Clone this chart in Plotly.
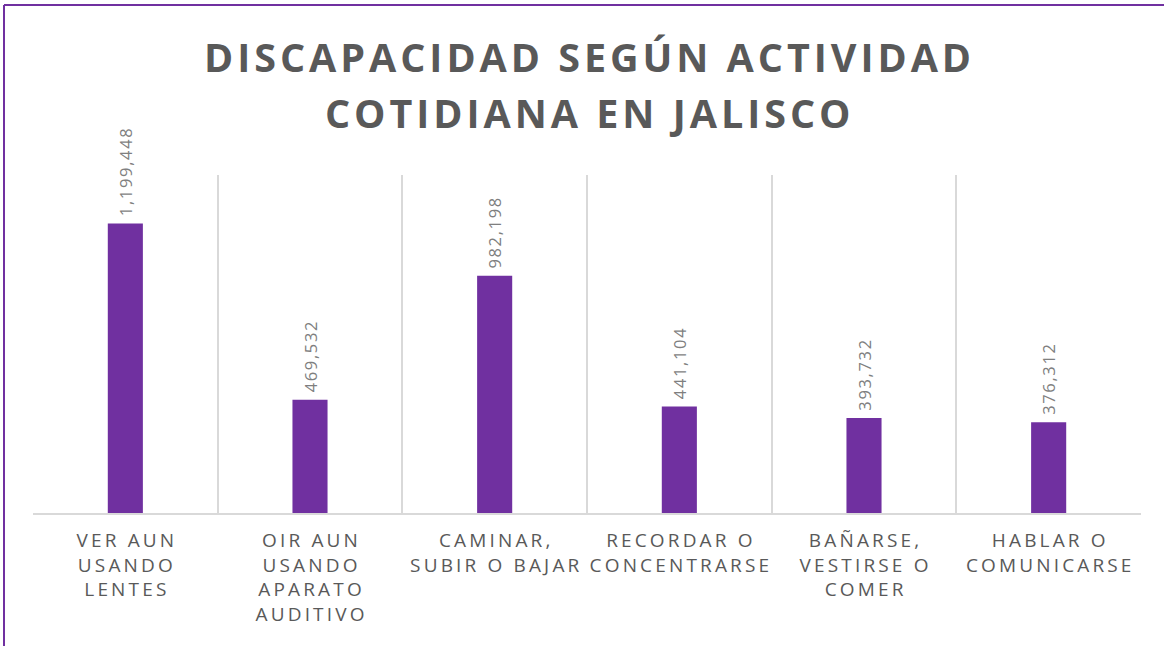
import plotly.graph_objects as go

categories = [
    "VER AUN USANDO LENTES",
    "OIR AUN USANDO APARATO AUDITIVO",
    "CAMINAR, SUBIR O BAJAR",
    "RECORDAR O CONCENTRARSE",
    "BAÑARSE, VESTIRSE O COMER",
    "HABLAR O COMUNICARSE",
]
label_lines = [
    ["VER AUN", "USANDO", "LENTES"],
    ["OIR AUN", "USANDO", "APARATO", "AUDITIVO"],
    ["CAMINAR,", "SUBIR O BAJAR"],
    ["RECORDAR O", "CONCENTRARSE"],
    ["BAÑARSE,", "VESTIRSE O", "COMER"],
    ["HABLAR O", "COMUNICARSE"],
]
values = [1199448, 469532, 982198, 441104, 393732, 376312]
title_lines = ["DISCAPACIDAD SEGÚN ACTIVIDAD", "COTIDIANA EN JALISCO"]

THIN = "\u2009"
HAIR = "\u200a"
NBSP = "\u00a0"

def spaced(s, sep=THIN):
    return sep.join(s)

tick_text = ["<br>".join(spaced(l) for l in lines) for lines in label_lines]
bar_text = [NBSP + spaced(f"{v:,}", HAIR) for v in values]

fig = go.Figure(
    go.Bar(
        x=categories,
        y=values,
        text=bar_text,
        textposition="outside",
        textangle=-90,
        constraintext="none",
        textfont=dict(family="Open Sans", size=16.5, color="#7f7f7f"),
        marker=dict(color="#7030A0", line=dict(width=0)),
        width=0.19,
        cliponaxis=False,
        hoverinfo="x+y",
    )
)

title_font = dict(family="Open Sans", size=39.5, color="#595959", weight="bold")
annotations = [
    dict(
        text=spaced(t, HAIR), xref="paper", yref="paper",
        x=0.5, y=yy, xanchor="center", yanchor="middle",
        showarrow=False, font=title_font,
    )
    for t, yy in zip(title_lines, [(513 - 57) / 338, (513 - 113) / 338])
]

fig.update_layout(
    width=1164,
    height=646,
    margin=dict(l=33, r=23, t=175, b=133, autoexpand=False),
    paper_bgcolor="white",
    plot_bgcolor="white",
    showlegend=False,
    annotations=annotations,
    xaxis=dict(
        tickmode="array",
        tickvals=categories,
        ticktext=tick_text,
        tickson="boundaries",
        tickangle=0,
        automargin=False,
        showgrid=True,
        gridcolor="#d9d9d9",
        gridwidth=1.5,
        showline=True,
        linecolor="#d9d9d9",
        linewidth=2,
        ticks="",
        tickfont=dict(family="Open Sans", size=19, color="#595959"),
        ticklabelstandoff=9,
    ),
    yaxis=dict(
        range=[0, 1400000],
        showgrid=False,
        showticklabels=False,
        zeroline=False,
        ticks="",
        automargin=False,
    ),
    shapes=[
        dict(
            type="line", xref="paper", yref="paper",
            x0=(4 - 33) / 1108, x1=(4 - 33) / 1108,
            y0=(513 - 5) / 338, y1=-0.5,
            line=dict(color="#7030A0", width=2),
        ),
        dict(
            type="line", xref="paper", yref="paper",
            x0=(4 - 33) / 1108, x1=1.1,
            y0=(513 - 5) / 338, y1=(513 - 5) / 338,
            line=dict(color="#7030A0", width=2),
        ),
    ],
)

fig.write_html(
    "out.html",
    config={"displayModeBar": False},
    post_script="document.body.style.margin='0';document.body.style.padding='0';",
)
